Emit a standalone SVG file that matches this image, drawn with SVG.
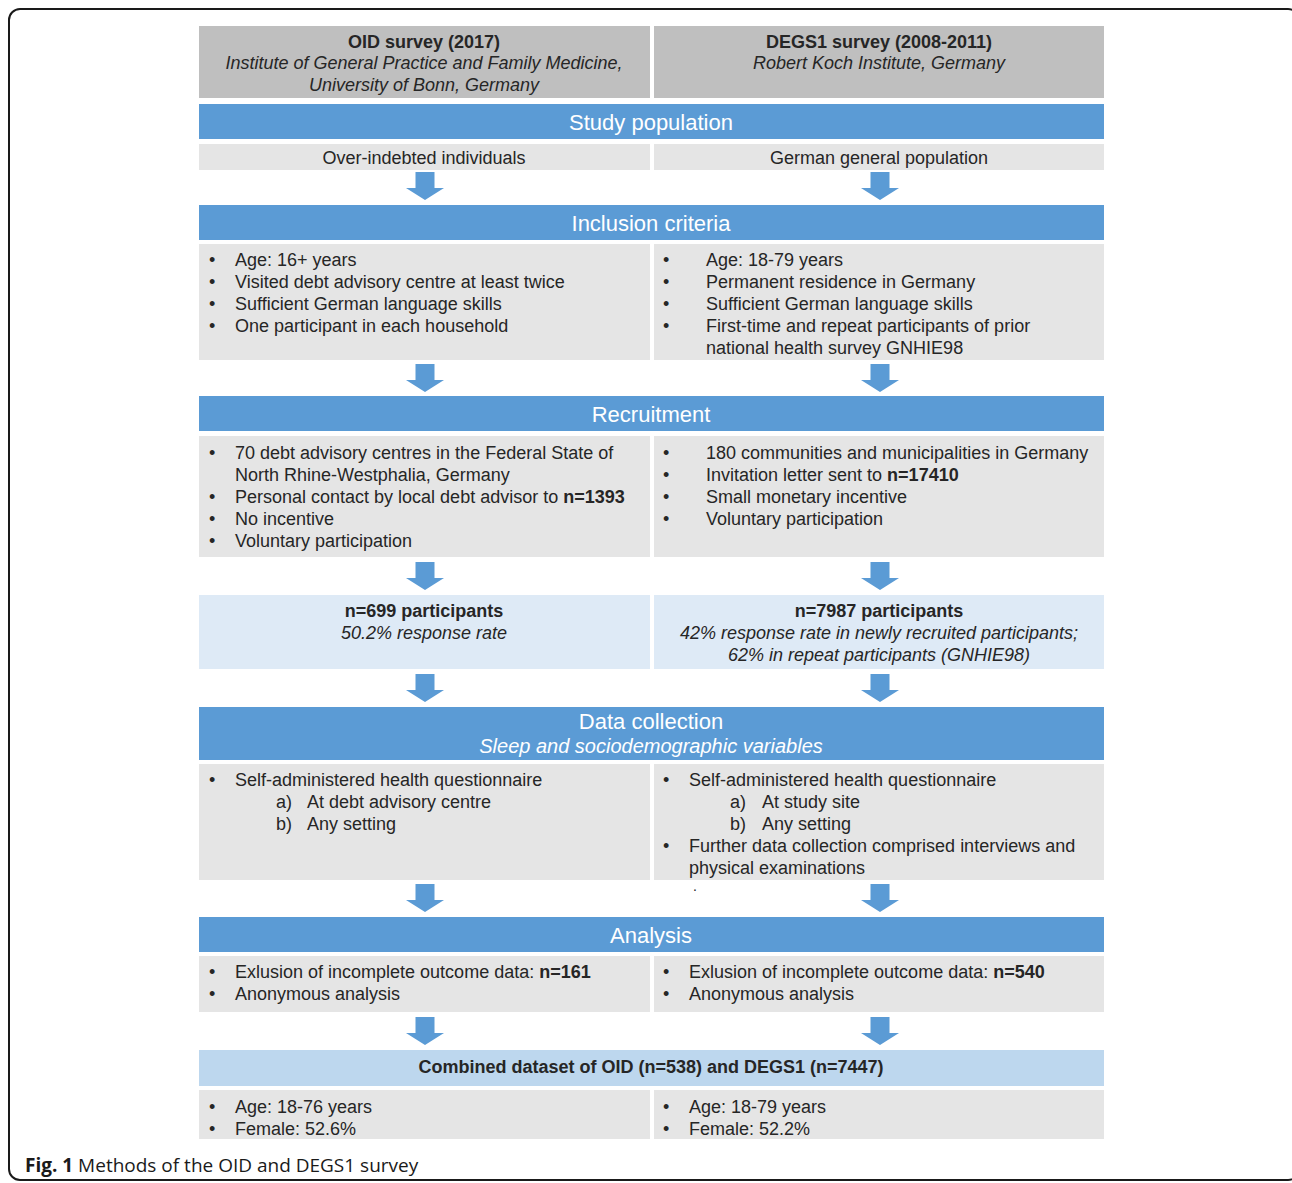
<svg xmlns="http://www.w3.org/2000/svg" width="1292" height="1183" viewBox="0 0 1292 1183">
<style>
  .frame{fill:none;stroke:#1a1a1a;stroke-width:2}
  .hdr{fill:#bfbfbf}
  .bar{fill:#5b9bd5}
  .row{fill:#e5e5e5}
  .lb{fill:#deeaf6}
  .lb2{fill:#bdd7ee}
  .arr{fill:#5b9bd5}
  text{font-family:"Liberation Sans",Arial,sans-serif;fill:#262626;font-size:18px}
  .b{font-weight:bold}
  .i{font-style:italic}
  .c{text-anchor:middle}
  .t{fill:#ffffff;font-size:22px}
  .sub{fill:#ffffff;font-size:20px;font-style:italic}
  .cap{font-family:"Open Sans","Noto Sans",sans-serif;font-size:19px;fill:#1a1a1a}
</style>
<defs>
  <path id="arrow" d="M-9.5 0 H9.5 V16 H19 L0 28 L-19 16 H-9.5 Z"/>
</defs>
<rect class="frame" x="9" y="9" width="1290" height="1171" rx="11"/>

<g id="header">
  <rect class="hdr" x="199" y="26" width="451" height="72"/>
  <rect class="hdr" x="654" y="26" width="450" height="72"/>
  <text class="b c" x="424" y="48">OID survey (2017)</text>
  <text class="i c" x="424" y="69">Institute of General Practice and Family Medicine,</text>
  <text class="i c" x="424" y="91">University of Bonn, Germany</text>
  <text class="b c" x="879" y="48">DEGS1 survey (2008-2011)</text>
  <text class="i c" x="879" y="69">Robert Koch Institute, Germany</text>
</g>

<g id="study-population">
  <rect class="bar" x="199" y="104" width="905" height="35"/>
  <text class="t c" x="651" y="130">Study population</text>
</g>
<g id="population-oid">
  <rect class="row" x="199" y="144" width="451" height="26"/>
  <text class="c" x="424" y="164">Over-indebted individuals</text>
</g>
<g id="population-degs">
  <rect class="row" x="654" y="144" width="450" height="26"/>
  <text class="c" x="879" y="164">German general population</text>
</g>

<g id="inclusion-criteria">
  <rect class="bar" x="199" y="205" width="905" height="35"/>
  <text class="t c" x="651" y="231">Inclusion criteria</text>
</g>
<g id="inclusion-oid">
  <rect class="row" x="199" y="244" width="451" height="116"/>
  <text x="209" y="266">•</text><text x="235" y="266">Age: 16+ years</text>
  <text x="209" y="288">•</text><text x="235" y="288">Visited debt advisory centre at least twice</text>
  <text x="209" y="310">•</text><text x="235" y="310">Sufficient German language skills</text>
  <text x="209" y="332">•</text><text x="235" y="332">One participant in each household</text>
</g>
<g id="inclusion-degs">
  <rect class="row" x="654" y="244" width="450" height="116"/>
  <text x="663" y="266">•</text><text x="706" y="266">Age: 18-79 years</text>
  <text x="663" y="288">•</text><text x="706" y="288">Permanent residence in Germany</text>
  <text x="663" y="310">•</text><text x="706" y="310">Sufficient German language skills</text>
  <text x="663" y="332">•</text><text x="706" y="332">First-time and repeat participants of prior</text>
  <text x="706" y="354">national health survey GNHIE98</text>
</g>

<g id="recruitment">
  <rect class="bar" x="199" y="396" width="905" height="35"/>
  <text class="t c" x="651" y="422">Recruitment</text>
</g>
<g id="recruitment-oid">
  <rect class="row" x="199" y="436" width="451" height="121"/>
  <text x="209" y="459">•</text><text x="235" y="459">70 debt advisory centres in the Federal State of</text>
  <text x="235" y="481">North Rhine-Westphalia, Germany</text>
  <text x="209" y="503">•</text><text x="235" y="503">Personal contact by local debt advisor to <tspan class="b">n=1393</tspan></text>
  <text x="209" y="525">•</text><text x="235" y="525">No incentive</text>
  <text x="209" y="547">•</text><text x="235" y="547">Voluntary participation</text>
</g>
<g id="recruitment-degs">
  <rect class="row" x="654" y="436" width="450" height="121"/>
  <text x="663" y="459">•</text><text x="706" y="459">180 communities and municipalities in Germany</text>
  <text x="663" y="481">•</text><text x="706" y="481">Invitation letter sent to <tspan class="b">n=17410</tspan></text>
  <text x="663" y="503">•</text><text x="706" y="503">Small monetary incentive</text>
  <text x="663" y="525">•</text><text x="706" y="525">Voluntary participation</text>
</g>

<g id="participants-oid">
  <rect class="lb" x="199" y="595" width="451" height="74"/>
  <text class="b c" x="424" y="617">n=699 participants</text>
  <text class="i c" x="424" y="639">50.2% response rate</text>
</g>
<g id="participants-degs">
  <rect class="lb" x="654" y="595" width="450" height="74"/>
  <text class="b c" x="879" y="617">n=7987 participants</text>
  <text class="i c" x="879" y="639">42% response rate in newly recruited participants;</text>
  <text class="i c" x="879" y="661">62% in repeat participants (GNHIE98)</text>
</g>

<g id="data-collection">
  <rect class="bar" x="199" y="707" width="905" height="53"/>
  <text class="t c" x="651" y="729">Data collection</text>
  <text class="sub c" x="651" y="753">Sleep and sociodemographic variables</text>
</g>
<g id="data-oid">
  <rect class="row" x="199" y="764" width="451" height="116"/>
  <text x="209" y="786">•</text><text x="235" y="786">Self-administered health questionnaire</text>
  <text x="276" y="808">a)</text><text x="307" y="808">At debt advisory centre</text>
  <text x="276" y="830">b)</text><text x="307" y="830">Any setting</text>
</g>
<g id="data-degs">
  <rect class="row" x="654" y="764" width="450" height="116"/>
  <text x="663" y="786">•</text><text x="689" y="786">Self-administered health questionnaire</text>
  <text x="730" y="808">a)</text><text x="762" y="808">At study site</text>
  <text x="730" y="830">b)</text><text x="762" y="830">Any setting</text>
  <text x="663" y="852">•</text><text x="689" y="852">Further data collection comprised interviews and</text>
  <text x="689" y="874">physical examinations</text>
  <text x="693" y="891" style="font-size:14px">.</text>
</g>

<g id="analysis">
  <rect class="bar" x="199" y="917" width="905" height="35"/>
  <text class="t c" x="651" y="943">Analysis</text>
</g>
<g id="analysis-oid">
  <rect class="row" x="199" y="956" width="451" height="56"/>
  <text x="209" y="978">•</text><text x="235" y="978">Exlusion of incomplete outcome data: <tspan class="b">n=161</tspan></text>
  <text x="209" y="1000">•</text><text x="235" y="1000">Anonymous analysis</text>
</g>
<g id="analysis-degs">
  <rect class="row" x="654" y="956" width="450" height="56"/>
  <text x="663" y="978">•</text><text x="689" y="978">Exlusion of incomplete outcome data: <tspan class="b">n=540</tspan></text>
  <text x="663" y="1000">•</text><text x="689" y="1000">Anonymous analysis</text>
</g>

<g id="combined">
  <rect class="lb2" x="199" y="1050" width="905" height="36"/>
  <text class="b c" x="651" y="1073">Combined dataset of OID (n=538) and DEGS1 (n=7447)</text>
</g>
<g id="result-oid">
  <rect class="row" x="199" y="1090" width="451" height="49"/>
  <text x="209" y="1113">•</text><text x="235" y="1113">Age: 18-76 years</text>
  <text x="209" y="1135">•</text><text x="235" y="1135">Female: 52.6%</text>
</g>
<g id="result-degs">
  <rect class="row" x="654" y="1090" width="450" height="49"/>
  <text x="663" y="1113">•</text><text x="689" y="1113">Age: 18-79 years</text>
  <text x="663" y="1135">•</text><text x="689" y="1135">Female: 52.2%</text>
</g>

<g id="connectors">
  <use href="#arrow" class="arr" x="425" y="172"/>
  <use href="#arrow" class="arr" x="880" y="172"/>
  <use href="#arrow" class="arr" x="425" y="364"/>
  <use href="#arrow" class="arr" x="880" y="364"/>
  <use href="#arrow" class="arr" x="425" y="562"/>
  <use href="#arrow" class="arr" x="880" y="562"/>
  <use href="#arrow" class="arr" x="425" y="674"/>
  <use href="#arrow" class="arr" x="880" y="674"/>
  <use href="#arrow" class="arr" x="425" y="884"/>
  <use href="#arrow" class="arr" x="880" y="884"/>
  <use href="#arrow" class="arr" x="425" y="1017"/>
  <use href="#arrow" class="arr" x="880" y="1017"/>
</g>

<g id="caption">
  <text class="cap" x="25" y="1172"><tspan font-weight="bold">Fig. 1</tspan> Methods of the OID and DEGS1 survey</text>
</g>
</svg>
